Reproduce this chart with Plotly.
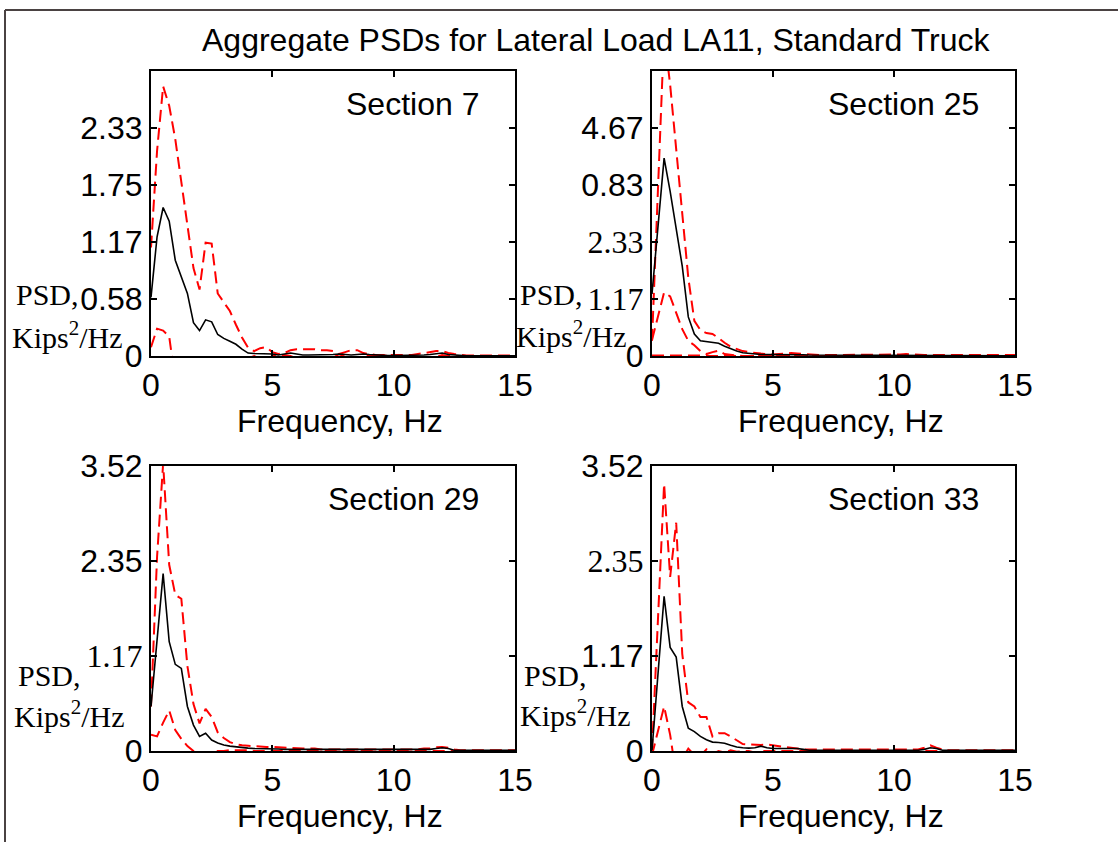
import plotly.graph_objects as go

W, H = 1118, 842

# ---------------- data ----------------
freq = [i * 0.25 for i in range(61)]  # Hz, 0..15

s7_mean = [0.60, 1.22, 1.52, 1.38, 0.98, 0.82, 0.64, 0.34, 0.26, 0.37, 0.35, 0.22, 0.18, 0.15, 0.12, 0.07, 0.03, 0.025, 0.025, 0.025, 0.02,
           0.01, 0.02, 0.03, 0.02, 0.01, 0.01, 0.01, 0.01, 0.01, 0.015, 0.02, 0.015, 0.01, 0.015, 0.02, 0.015, 0.01, 0.01, 0.005,
           0.005, 0.005, 0.005, 0.005, 0.005, 0.01, 0.015, 0.02, 0.03, 0.015, 0.01, 0.005, 0.003, 0.003, 0.003, 0.003, 0.003, 0.003, 0.003, 0.003, 0.003]
s7_upper = [1.11, 2.10, 2.76, 2.56, 2.22, 1.78, 1.38, 0.90, 0.68, 1.16, 1.15, 0.64, 0.55, 0.46, 0.32, 0.19, 0.085, 0.05, 0.08, 0.09, 0.04,
            0.02, 0.03, 0.06, 0.07, 0.07, 0.07, 0.07, 0.06, 0.06, 0.05, 0.02, 0.04, 0.06, 0.06, 0.03, 0.02, 0.01, 0.01, 0.01,
            0.01, 0.01, 0.01, 0.01, 0.02, 0.03, 0.04, 0.05, 0.05, 0.03, 0.02, 0.01, 0.005, 0.005, 0.005, 0.005, 0.005, 0.005, 0.005, 0.005, 0.005]
s7_lower = [0.09, 0.28, 0.26, 0.20, -0.26, -0.14, -0.10, -0.22, -0.16, -0.42, -0.45, -0.20, -0.19, -0.16, -0.08, -0.05, -0.025, 0.0, -0.03, -0.04, 0.0,
            0.0, 0.01, 0.0, -0.03, -0.05, -0.05, -0.05, -0.04, -0.04, -0.02, 0.02, -0.01, -0.04, -0.03, 0.01, 0.01, 0.01, 0.01, 0.0,
            0.0, 0.0, 0.0, 0.0, -0.01, -0.01, -0.01, -0.01, 0.01, 0.0, 0.0, 0.0, 0.0, 0.0, 0.0, 0.0, 0.0, 0.0, 0.0, 0.0, 0.0]

s25_mean = [1.27, 2.60, 4.05, 3.37, 2.60, 1.84, 0.80, 0.45, 0.31, 0.29, 0.28, 0.26, 0.20, 0.145, 0.10, 0.065, 0.05, 0.035, 0.03, 0.03, 0.03,
            0.03, 0.03, 0.04, 0.03, 0.025, 0.02, 0.02, 0.015, 0.01, 0.01, 0.01, 0.01, 0.01, 0.01, 0.01, 0.01, 0.01, 0.01, 0.01,
            0.01, 0.01, 0.015, 0.01, 0.01, 0.005, 0.005, 0.005, 0.005, 0.005, 0.005, 0.005, 0.005, 0.005, 0.005, 0.005, 0.005, 0.005, 0.005, 0.005, 0.005]
s25_upper = [0.31, 3.30, 6.60, 5.55, 4.20, 2.90, 1.60, 0.72, 0.53, 0.47, 0.45, 0.37, 0.27, 0.19, 0.14, 0.10, 0.08, 0.06, 0.05, 0.04, 0.03,
             0.04, 0.05, 0.06, 0.05, 0.04, 0.03, 0.03, 0.02, 0.02, 0.02, 0.02, 0.03, 0.02, 0.02, 0.02, 0.02, 0.02, 0.02, 0.02,
             0.02, 0.03, 0.04, 0.03, 0.02, 0.02, 0.02, 0.02, 0.02, 0.02, 0.02, 0.02, 0.02, 0.02, 0.02, 0.02, 0.02, 0.02, 0.02, 0.02, 0.02]
s25_lower = [0.33, 0.80, 1.30, 1.22, 0.90, 0.55, 0.31, 0.22, 0.10, 0.04, 0.08, 0.11, 0.04, 0.02, 0.01, 0.0, 0.0, 0.0, 0.0, 0.0, 0.0,
             0.0, 0.0, 0.0, 0.0, 0.0, 0.0, 0.0, 0.0, 0.0, 0.0, 0.0, 0.0, 0.0, 0.0, 0.0, 0.0, 0.0, 0.0, 0.0,
             0.0, 0.0, 0.0, 0.0, 0.0, 0.0, 0.0, 0.0, 0.0, 0.0, 0.0, 0.0, 0.0, 0.0, 0.0, 0.0, 0.0, 0.0, 0.0, 0.0, 0.0]
s25_min = [0.01, 0.01, 0.02, 0.02, 0.01, 0.01, 0.01, 0.01, 0.01, 0.0, 0.0, 0.01, 0.01, 0.0, 0.0, 0.0, 0.0, 0.0, 0.0, 0.0, 0.0,
           0.0, 0.0, 0.01, 0.01, 0.0, 0.0, 0.0, 0.0, 0.0, 0.0, 0.0, 0.0, 0.0, 0.0, 0.0, 0.0, 0.0, 0.0, 0.0,
           0.0, 0.0, 0.0, 0.0, 0.0, 0.0, 0.0, 0.0, 0.0, 0.0, 0.0, 0.0, 0.0, 0.0, 0.0, 0.0, 0.0, 0.0, 0.0, 0.0, 0.0]

s29_mean = [0.55, 1.40, 2.19, 1.35, 1.07, 1.02, 0.55, 0.32, 0.18, 0.22, 0.135, 0.10, 0.075, 0.06, 0.05, 0.04, 0.035, 0.03, 0.03, 0.025, 0.025,
            0.025, 0.02, 0.02, 0.02, 0.02, 0.015, 0.015, 0.015, 0.015, 0.015, 0.015, 0.015, 0.015, 0.015, 0.015, 0.015, 0.015, 0.015, 0.015,
            0.015, 0.015, 0.015, 0.015, 0.015, 0.02, 0.02, 0.03, 0.04, 0.03, 0.01, 0.01, 0.01, 0.01, 0.01, 0.01, 0.01, 0.01, 0.01, 0.01, 0.01]
s29_upper = [0.55, 2.40, 3.55, 2.30, 1.93, 1.88, 1.05, 0.58, 0.34, 0.52, 0.42, 0.23, 0.16, 0.11, 0.085, 0.07, 0.065, 0.06, 0.05, 0.05, 0.05,
             0.045, 0.04, 0.04, 0.035, 0.03, 0.03, 0.03, 0.02, 0.02, 0.02, 0.02, 0.02, 0.02, 0.02, 0.02, 0.02, 0.02, 0.02, 0.02,
             0.02, 0.02, 0.02, 0.02, 0.02, 0.03, 0.03, 0.045, 0.05, 0.04, 0.02, 0.01, 0.01, 0.01, 0.01, 0.01, 0.01, 0.01, 0.01, 0.01, 0.01]
s29_lower = [0.20, 0.18, 0.35, 0.50, 0.26, 0.15, 0.06, 0.0, -0.02, -0.05, -0.02, 0.0, 0.0, 0.01, 0.01, 0.01, 0.01, 0.0, 0.0, 0.0, 0.0,
             0.0, 0.0, 0.0, 0.0, 0.0, 0.0, 0.0, 0.0, 0.0, 0.0, 0.0, 0.0, 0.0, 0.0, 0.0, 0.0, 0.0, 0.0, 0.0,
             0.0, 0.0, 0.0, 0.0, 0.0, 0.0, 0.0, 0.0, 0.0, 0.0, 0.0, 0.0, 0.0, 0.0, 0.0, 0.0, 0.0, 0.0, 0.0, 0.0, 0.0]

s33_mean = [0.01, 0.95, 1.91, 1.28, 1.16, 0.55, 0.28, 0.24, 0.18, 0.14, 0.11, 0.105, 0.095, 0.07, 0.05, 0.04, 0.035, 0.04, 0.06, 0.04, 0.03,
            0.03, 0.03, 0.03, 0.03, 0.02, 0.01, 0.01, 0.01, 0.01, 0.01, 0.01, 0.01, 0.01, 0.01, 0.01, 0.01, 0.01, 0.01, 0.01,
            0.01, 0.01, 0.01, 0.01, 0.01, 0.02, 0.04, 0.03, 0.01, 0.01, 0.01, 0.01, 0.01, 0.01, 0.01, 0.01, 0.01, 0.01, 0.01, 0.01, 0.01]
s33_upper = [0.0, 1.70, 3.30, 2.15, 2.82, 1.20, 0.60, 0.55, 0.42, 0.42, 0.18, 0.22, 0.22, 0.18, 0.13, 0.085, 0.08, 0.074, 0.075, 0.08, 0.07,
             0.06, 0.05, 0.04, 0.03, 0.02, 0.02, 0.02, 0.02, 0.02, 0.02, 0.02, 0.02, 0.02, 0.02, 0.02, 0.02, 0.02, 0.02, 0.02,
             0.02, 0.02, 0.02, 0.02, 0.02, 0.04, 0.07, 0.04, 0.02, 0.01, 0.01, 0.01, 0.01, 0.01, 0.01, 0.01, 0.01, 0.01, 0.01, 0.01, 0.01]
s33_lower = [-0.05, 0.25, 0.55, 0.20, -0.30, -0.10, 0.03, -0.05, -0.06, 0.02, -0.04, 0.0, -0.02, 0.01, -0.01, 0.0, 0.0, -0.02, 0.0, 0.0, 0.0,
             0.0, 0.0, 0.0, 0.0, 0.0, 0.0, 0.0, 0.0, 0.0, 0.0, 0.0, 0.0, 0.0, 0.0, 0.0, 0.0, 0.0, 0.0, 0.0,
             0.0, 0.0, 0.0, 0.0, 0.0, 0.0, 0.0, 0.0, 0.0, 0.0, 0.0, 0.0, 0.0, 0.0, 0.0, 0.0, 0.0, 0.0, 0.0, 0.0, 0.0]

sections = ["Section 7", "Section 25", "Section 29", "Section 33"]
y_max = [2.9167, 5.8333, 3.52, 3.52]
y_tickvals = [[0, 0.5833, 1.1667, 1.75, 2.3333],
              [0, 1.1667, 2.3333, 3.5, 4.6667],
              [0, 1.1733, 2.3467, 3.52],
              [0, 1.1733, 2.3467, 3.52]]
# (label, font) ; "s" sans, "r" serif
y_ticklabels = [[("0", "s"), ("0.58", "s"), ("1.17", "s"), ("1.75", "s"), ("2.33", "s")],
                [("0", "s"), ("1.17", "r"), ("2.33", "r"), ("0.83", "s"), ("4.67", "s")],
                [("0", "s"), ("1.17", "r"), ("2.35", "s"), ("3.52", "s")],
                [("0", "s"), ("1.17", "s"), ("2.35", "r"), ("3.52", "s")]]
x_tickvals = [0, 5, 10, 15]

title_text = "Aggregate PSDs for Lateral Load LA11, Standard Truck"
x_title = "Frequency, Hz"

# ---------------- layout helpers ----------------
SANS = "Liberation Sans, Arial, Helvetica, sans-serif"
SERIF = "Liberation Serif, Times New Roman, serif"
RED = "#ff0000"
FS = 32

def px(x):
    return x / W

def py(y):
    return 1 - y / H

boxes = [(151, 515, 71, 356), (652, 1015, 71, 356), (151, 515, 466, 751), (652, 1015, 466, 751)]

series = [
    (s7_mean, [s7_upper, s7_lower]),
    (s25_mean, [s25_upper, s25_lower, s25_min]),
    (s29_mean, [s29_upper, s29_lower]),
    (s33_mean, [s33_upper, s33_lower]),
]
for m, reds in series:
    assert len(m) == len(freq)
    for r in reds:
        assert len(r) == len(freq)

fig = go.Figure()
layout = dict(width=W, height=H, margin=dict(l=0, r=0, t=0, b=0, autoexpand=False),
              paper_bgcolor="white", plot_bgcolor="white", showlegend=False)

annotations = []
for i, (box, (m, reds)) in enumerate(zip(boxes, series)):
    n = "" if i == 0 else str(i + 1)
    xa, ya = "x" + n, "y" + n
    for r in reds:
        fig.add_trace(go.Scatter(x=freq, y=r, mode="lines", xaxis=xa, yaxis=ya,
                                 line=dict(color=RED, width=2, dash="12px,6px")))
    fig.add_trace(go.Scatter(x=freq, y=m, mode="lines", xaxis=xa, yaxis=ya,
                             line=dict(color="black", width=1.6)))
    x0, x1, y0, y1 = box
    ticktext = []
    for lab, f in y_ticklabels[i]:
        if f == "r":
            ticktext.append('<span style="font-family:Liberation Serif, Times New Roman, serif">%s</span>' % lab)
        else:
            ticktext.append(lab)
    common = dict(showline=True, linecolor="black", linewidth=2, mirror="allticks",
                  ticks="inside", ticklen=6, tickcolor="black", tickwidth=1.5,
                  showgrid=False, zeroline=False, automargin=False,
                  tickfont=dict(family=SANS, size=FS, color="black"))
    layout["xaxis" + n] = dict(domain=[px(x0), px(x1)], anchor=ya, range=[0, 15],
                               tickvals=x_tickvals, ticktext=[str(v) for v in x_tickvals],
                               ticklabelstandoff=0, **common)
    layout["yaxis" + n] = dict(domain=[py(y1), py(y0)], anchor=xa, range=[0, y_max[i]],
                               tickvals=y_tickvals[i], ticktext=ticktext,
                               ticklabelstandoff=0, **common)
    # section label
    annotations.append(dict(text=sections[i], x=px(x1 - 34), y=py(y0 + 33), xref="paper", yref="paper",
                            xanchor="right", yanchor="middle", showarrow=False,
                            font=dict(family=SANS, size=FS, color="black")))
    # x title
    annotations.append(dict(text=x_title, x=px((x0 + x1) / 2 + 7), y=py(y1 + 65), xref="paper", yref="paper",
                            xanchor="center", yanchor="middle", showarrow=False,
                            font=dict(family=SANS, size=FS, color="black")))

psd_pos = [(14, 295, 335), (518, 295, 334), (16, 675, 714), (522, 675, 713)]
for (lx, yp, yk) in psd_pos:
    annotations.append(dict(text="PSD,", x=px(lx), y=py(yp), xref="paper", yref="paper",
                            xanchor="left", yanchor="middle", showarrow=False,
                            font=dict(family=SERIF, size=30, color="black")))
    annotations.append(dict(text="Kips<sup>2</sup>/Hz", x=px(lx - 4), y=py(yk), xref="paper", yref="paper",
                            xanchor="left", yanchor="middle", showarrow=False,
                            font=dict(family=SERIF, size=30, color="black")))

annotations.append(dict(text=title_text, x=px(596), y=py(40), xref="paper", yref="paper",
                        xanchor="center", yanchor="middle", showarrow=False,
                        font=dict(family=SANS, size=FS, color="black")))
layout["annotations"] = annotations

# outer frame (left and top edges)
layout["shapes"] = [
    dict(type="line", xref="paper", yref="paper", x0=px(5), x1=px(5), y0=py(10), y1=0,
         line=dict(color="#4a4242", width=2)),
    dict(type="line", xref="paper", yref="paper", x0=px(5), x1=1, y0=py(10), y1=py(10),
         line=dict(color="#4a4242", width=2)),
]

fig.update_layout(**layout)
fig.write_html("out.html")
